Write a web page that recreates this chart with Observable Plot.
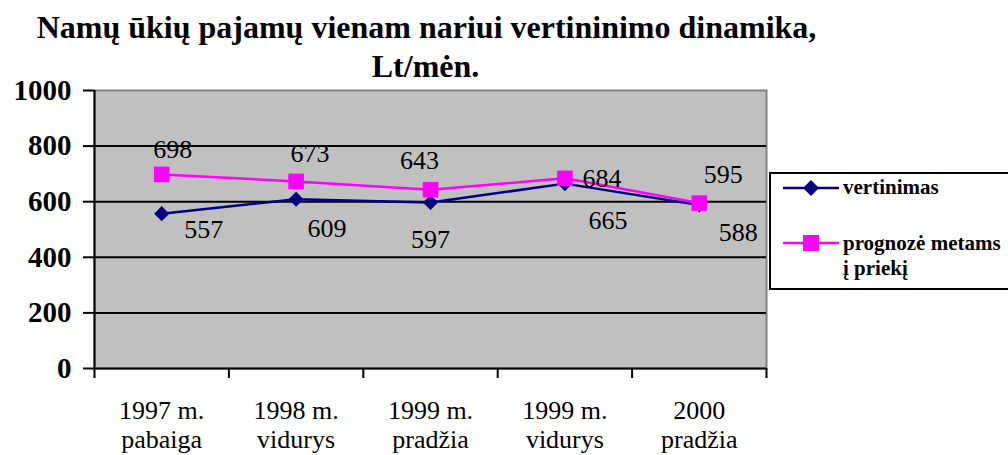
<!DOCTYPE html>
<html>
<head>
<meta charset="utf-8">
<script src="https://cdn.jsdelivr.net/npm/d3@7"></script>
<script src="https://cdn.jsdelivr.net/npm/@observablehq/plot@0.6"></script>
<style>
  body { margin: 0; background: #fff; }
  #wrap { position: relative; width: 1008px; height: 455px; overflow: hidden; font-family: "Liberation Serif", "Times New Roman", serif; }
  #wrap svg text { font-family: "Liberation Serif", "Times New Roman", serif; }
  #legend { position: absolute; left: 769px; top: 172px; width: 260px; height: 118px; border: 2px solid #000; background: #fff; box-sizing: border-box; }
  .lg-text { position: absolute; left: 72px; font-weight: bold; font-size: 21px; line-height: 25px; white-space: nowrap; color: #000; font-family: "Liberation Serif", serif; }
  svg.sw { position: absolute; left: 12px; }
</style>
</head>
<body>
<div id="wrap"></div>
<script>
const titleLines = ["Namų ūkių pajamų vienam nariui vertininimo dinamika,", "Lt/mėn."];
const categories = ["1997 m.\npabaiga", "1998 m.\nvidurys", "1999 m.\npradžia", "1999 m.\nvidurys", "2000\npradžia"];
const seriesNames = ["vertinimas", "prognozė metams\nį priekį"];
const vertinimas = [557, 609, 597, 665, 588];
const prognoze = [698, 673, 643, 684, 595];
const yTicks = [0, 200, 400, 600, 800, 1000];

// label placement (style only)
const blueLabelOffsets = [[42, 16], [31, 29], [0, 37], [43, 37], [39, 28]];
const pinkLabelOffsets = [[11, -25], [14, -28], [-11, -29], [37, 0], [24, -28]];

const BLUE = "#000080", PINK = "#ff00ff";
const FONT = "'Liberation Serif', 'Times New Roman', serif";

const idx = categories.map((_, i) => i);
const boundaries = d3.range(categories.length + 1).map(i => i - 0.5);
const blueData = idx.map(i => ({i, v: vertinimas[i]}));
const pinkData = idx.map(i => ({i, v: prognoze[i]}));
const grid = yTicks.filter(t => t > 0 && t < 1000);

const labelMarks = [];
blueData.forEach((d, k) => labelMarks.push(Plot.text([d], {x: "i", y: "v", text: d => String(d.v), dx: blueLabelOffsets[k][0], dy: blueLabelOffsets[k][1], fontSize: 26, fontFamily: FONT, fill: "#000"})));
pinkData.forEach((d, k) => labelMarks.push(Plot.text([d], {x: "i", y: "v", text: d => String(d.v), dx: pinkLabelOffsets[k][0], dy: pinkLabelOffsets[k][1], fontSize: 26, fontFamily: FONT, fill: "#000"})));

const chart = Plot.plot({
  width: 1008,
  height: 455,
  marginLeft: 94,
  marginRight: 242,
  marginTop: 90,
  marginBottom: 87,
  style: {fontFamily: FONT, background: "transparent", color: "#000"},
  x: {type: "linear", domain: [-0.5, categories.length - 0.5], axis: null},
  y: {domain: [0, 1000], axis: null},
  marks: [
    Plot.frame({fill: "#c0c0c0", stroke: "#808080", strokeWidth: 2}),
    Plot.ruleY(grid, {stroke: "#000", strokeWidth: 2}),
    Plot.ruleY([0], {stroke: "#000", strokeWidth: 2}),
    Plot.ruleX([boundaries[0]], {stroke: "#000", strokeWidth: 2}),
    Plot.axisY({ticks: yTicks, tickSize: 11, tickPadding: 12, tickFormat: d => String(d), fontSize: 29, fontWeight: "bold", fontFamily: FONT, strokeWidth: 2, label: null}),
    Plot.axisX({ticks: boundaries, tickSize: 10, tickFormat: () => "", strokeWidth: 2, label: null}),
    Plot.axisX({ticks: idx, tickSize: 0, tickPadding: 30, tickFormat: i => categories[i], fontSize: 26, fontFamily: FONT, lineHeight: 1.12, label: null}),
    Plot.line(blueData, {x: "i", y: "v", stroke: BLUE, strokeWidth: 2.5}),
    Plot.line(pinkData, {x: "i", y: "v", stroke: PINK, strokeWidth: 2.5}),
    Plot.dot(blueData, {x: "i", y: "v", symbol: "diamond2", r: 6.8, fill: BLUE, stroke: "none"}),
    Plot.dot(pinkData, {x: "i", y: "v", symbol: "square", r: 8.8, fill: PINK, stroke: "none"}),
    ...labelMarks,
    Plot.text([titleLines[0]], {frameAnchor: "top", lineAnchor: "bottom", dy: -53, dx: -4, fontSize: 32, fontWeight: "bold", fontFamily: FONT, fill: "#000"}),
    Plot.text([titleLines[1]], {frameAnchor: "top", lineAnchor: "bottom", dy: -14, dx: -5, fontSize: 32, fontWeight: "bold", fontFamily: FONT, fill: "#000"})
  ]
});

const wrap = document.getElementById("wrap");
wrap.appendChild(chart);

// legend
const legend = document.createElement("div");
legend.id = "legend";
const swatch = (color, shape, top) => {
  const s = document.createElementNS("http://www.w3.org/2000/svg", "svg");
  s.setAttribute("class", "sw");
  s.setAttribute("width", 58);
  s.setAttribute("height", 20);
  s.style.top = top + "px";
  const shapeEl = shape === "diamond"
    ? `<polygon points="28,2 36,10 28,18 20,10" fill="${color}"/>`
    : `<rect x="20" y="2" width="16" height="16" fill="${color}"/>`;
  s.innerHTML = `<line x1="0" y1="10" x2="56" y2="10" stroke="${color}" stroke-width="2.5"/>` + shapeEl;
  return s;
};
legend.appendChild(swatch(BLUE, "diamond", 4));
legend.appendChild(swatch(PINK, "square", 59));
const t1 = document.createElement("div");
t1.className = "lg-text"; t1.style.top = "1px"; t1.textContent = seriesNames[0];
const t2 = document.createElement("div");
t2.className = "lg-text"; t2.style.top = "57px"; t2.innerHTML = seriesNames[1].split("\n").join("<br>");
legend.appendChild(t1); legend.appendChild(t2);
wrap.appendChild(legend);
</script>
</body>
</html>
